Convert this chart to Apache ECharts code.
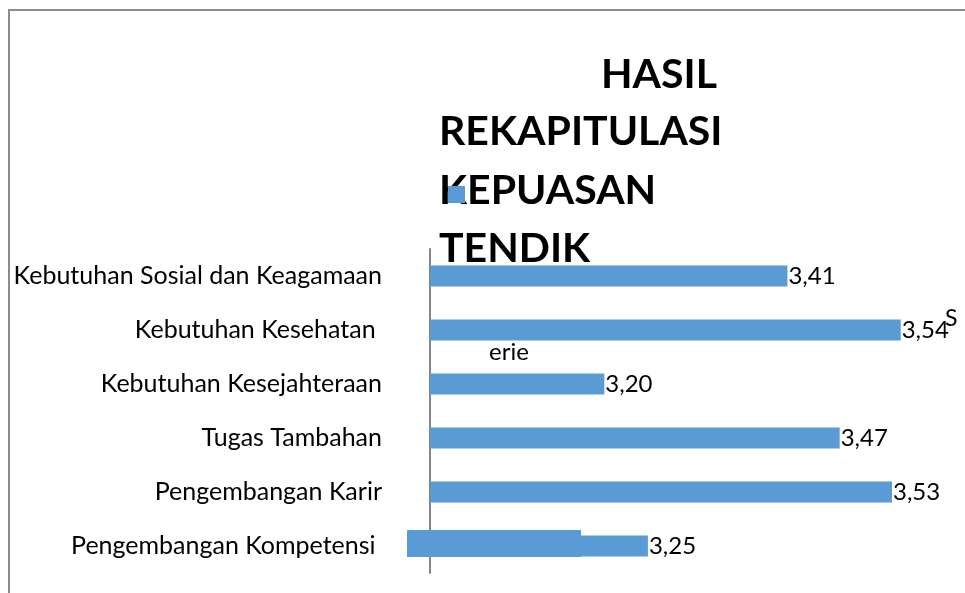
<!DOCTYPE html>
<html>
<head>
<meta charset="utf-8">
<script src="https://cdn.jsdelivr.net/npm/echarts@6/dist/echarts.min.js"></script>
<style>
    html, body { margin: 0; padding: 0; background: #fff; }
    #chart { width: 965px; height: 593px; }
</style>
</head>
<body>
<div id="chart"></div>
<script>
// categories top to bottom, as in the picture
var categories = ['Kebutuhan Sosial dan Keagamaan', 'Kebutuhan Kesehatan ', 'Kebutuhan Kesejahteraan',
    'Tugas Tambahan', 'Pengembangan Karir', 'Pengembangan Kompetensi '];
var values = [3.41, 3.54, 3.20, 3.47, 3.53, 3.25];
var titleLines = ['HASIL', 'REKAPITULASI', 'KEPUASAN', 'TENDIK'];
var seriesName = 'Series';

var barColor = '#5B9BD5';
var labelFont = 'Lato, "Open Sans", sans-serif';
var titleFont = 'bold 41px ' + labelFont;

function formatComma(v) {
    return v.toFixed(2).replace('.', ',');
}

var myChart = echarts.init(document.getElementById('chart'));

var option = {
    animation: false,
    grid: {
        left: 430,
        right: 12,
        top: 249,
        bottom: 20
    },
    xAxis: {
        type: 'value',
        min: 3,
        max: 3.6,
        show: false
    },
    yAxis: {
        type: 'category',
        inverse: true,
        data: categories,
        axisTick: { show: false },
        axisLine: {
            lineStyle: { color: '#868686', width: 2 }
        },
        axisLabel: {
            margin: 48,
            color: '#000',
            fontSize: 25,
            fontFamily: labelFont
        }
    },
    series: [{
        name: seriesName,
        type: 'bar',
        data: values,
        barWidth: 21,
        itemStyle: { color: barColor },
        label: {
            show: true,
            position: 'right',
            distance: 1,
            color: '#000',
            fontSize: 24,
            fontFamily: labelFont,
            formatter: function (p) {
                return formatComma(p.value);
            }
        }
    }],
    graphic: [
        // outer frame
        {
            type: 'rect',
            shape: { x: 9, y: 10, width: 1000, height: 700 },
            style: { fill: 'none', stroke: '#8c8c8c', lineWidth: 2 },
            silent: true
        },
        {
            type: 'text', x: 717, y: 95,
            style: { text: titleLines[0], align: 'right', verticalAlign: 'bottom', fill: '#000', font: titleFont }
        },
        {
            type: 'text', x: 439, y: 152,
            style: { text: titleLines[1], align: 'left', verticalAlign: 'bottom', fill: '#000', font: titleFont }
        },
        {
            type: 'text', x: 439, y: 211,
            style: { text: titleLines[2], align: 'left', verticalAlign: 'bottom', fill: '#000', font: titleFont }
        },
        {
            type: 'text', x: 439, y: 269,
            style: { text: titleLines[3], align: 'left', verticalAlign: 'bottom', fill: '#000', font: titleFont }
        },
        // stray legend pieces
        {
            type: 'rect', z: 100,
            shape: { x: 448, y: 186, width: 17, height: 17 },
            style: { fill: barColor }
        },
        {
            type: 'text', x: 945, y: 330, z: 100,
            style: { text: 'S', verticalAlign: 'bottom', fill: '#000', font: '23px ' + labelFont }
        },
        {
            type: 'text', x: 489, y: 364, z: 100,
            style: { text: 'erie', verticalAlign: 'bottom', fill: '#000', font: '24px ' + labelFont }
        },
        {
            type: 'rect', z: 100,
            shape: { x: 407, y: 530, width: 174, height: 27 },
            style: { fill: barColor }
        }
    ]
};

myChart.setOption(option);
</script>
</body>
</html>
